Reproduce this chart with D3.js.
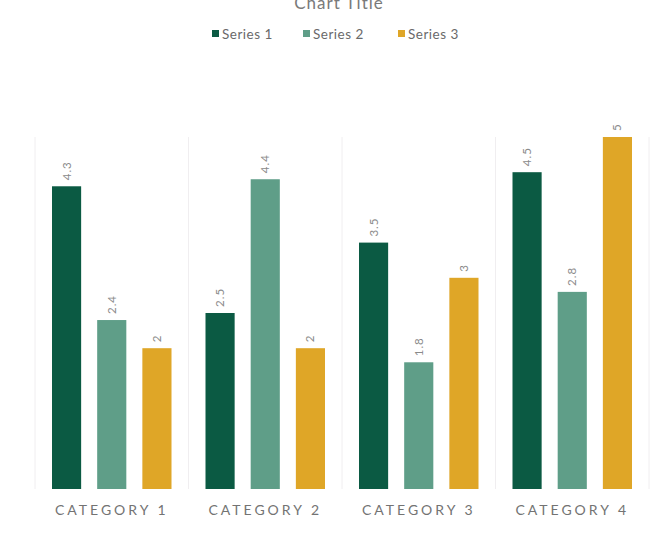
<!DOCTYPE html>
<html lang="en">
<head>
<meta charset="utf-8">
<script src="https://d3js.org/d3.v7.min.js"></script>
<style>
  body { margin: 0; background: #fff; }
  text { font-family: Lato, "Open Sans", sans-serif; }
</style>
</head>
<body>
<script>
  var categories = ["CATEGORY 1", "CATEGORY 2", "CATEGORY 3", "CATEGORY 4"];
  var seriesNames = ["Series 1", "Series 2", "Series 3"];
  var series1 = [4.3, 2.5, 3.5, 4.5];
  var series2 = [2.4, 4.4, 1.8, 2.8];
  var series3 = [2, 2, 3, 5];
  var seriesValues = [series1, series2, series3];
  var colors = ["#0b5a43", "#5f9e88", "#dfa627"];

  const width = 668, height = 547;
  const margin = { top: 137, right: 19, bottom: 58, left: 35 };
  const innerW = width - margin.left - margin.right;
  const innerH = height - margin.top - margin.bottom;

  const svg = d3.select("body").append("svg")
    .attr("width", width).attr("height", height);

  // title (partly cut off at top, as in the original)
  svg.append("text")
    .attr("x", 339).attr("y", 9)
    .attr("text-anchor", "middle")
    .attr("fill", "#7a7a7a")
    .style("font-size", "17px")
    .style("letter-spacing", "1px")
    .text("Chart Title");

  // legend
  var legendX = [212, 303, 398];
  var legend = svg.append("g").selectAll("g")
    .data(seriesNames).enter().append("g")
    .attr("transform", function(d, i) { return "translate(" + legendX[i] + ",34)"; });
  legend.append("rect")
    .attr("x", 0).attr("y", -4).attr("width", 7).attr("height", 7)
    .attr("fill", function(d, i) { return colors[i]; });
  legend.append("text")
    .attr("x", 10).attr("y", 5)
    .attr("fill", "#6a6a6a")
    .style("font-size", "13.5px")
    .style("letter-spacing", "0.5px")
    .text(function(d) { return d; });

  const g = svg.append("g")
    .attr("transform", "translate(" + margin.left + "," + margin.top + ")");

  const x0 = d3.scaleBand().domain(categories).range([0, innerW]).paddingInner(0).paddingOuter(0);
  const x1 = d3.scaleBand().domain(seriesNames).range([17, x0.bandwidth() - 17]).paddingInner(0.355);
  const y = d3.scaleLinear().domain([0, 5]).range([innerH, 0]);

  // vertical separators
  g.selectAll("line.sep")
    .data(d3.range(categories.length + 1)).enter().append("line")
    .attr("class", "sep")
    .attr("x1", function(d) { return d * x0.step(); })
    .attr("x2", function(d) { return d * x0.step(); })
    .attr("y1", 0).attr("y2", innerH)
    .attr("stroke", "#f0eef0").attr("stroke-width", 1);

  var groups = g.selectAll("g.cat")
    .data(categories).enter().append("g")
    .attr("class", "cat")
    .attr("transform", function(d) { return "translate(" + x0(d) + ",0)"; });

  var barData = function(c, ci) {
    return seriesNames.map(function(s, si) { return { s: s, si: si, v: seriesValues[si][ci] }; });
  };

  groups.selectAll("rect")
    .data(barData).enter().append("rect")
    .attr("x", function(d) { return x1(d.s); })
    .attr("width", x1.bandwidth())
    .attr("y", function(d) { return y(d.v); })
    .attr("height", function(d) { return innerH - y(d.v); })
    .attr("fill", function(d) { return colors[d.si]; });

  groups.selectAll("text.val")
    .data(barData).enter().append("text")
    .attr("class", "val")
    .attr("transform", function(d) {
      return "translate(" + (x1(d.s) + x1.bandwidth() / 2 + 4) + "," + (y(d.v) - 6) + ") rotate(-90)";
    })
    .attr("fill", "#8a8a8a")
    .style("font-size", "11.5px")
    .style("letter-spacing", "1px")
    .text(function(d) { return d.v; });

  // category axis
  const xAxis = d3.axisBottom(x0).tickSize(0).tickPadding(16);
  const ax = g.append("g")
    .attr("transform", "translate(0," + innerH + ")")
    .call(xAxis);
  ax.select(".domain").remove();
  ax.selectAll("text")
    .attr("fill", "#737373")
    .style("font-size", "14px")
    .style("letter-spacing", "3px")
    .style("font-family", "Lato, sans-serif");
</script>
</body>
</html>
